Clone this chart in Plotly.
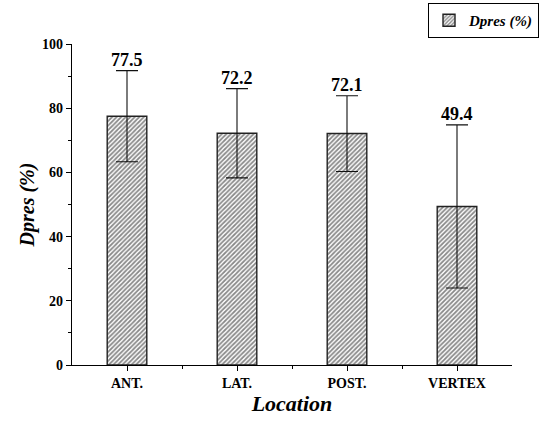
import plotly.graph_objects as go
import numpy as np

categories = ["ANT.", "LAT.", "POST.", "VERTEX"]
dpres = [77.5, 72.2, 72.1, 49.4]
dpres_err = [14.2, 13.9, 11.8, 25.4]
series_name = "<b><i>Dpres (%)</i></b>"

xpos = np.arange(len(categories))
FONT = "Liberation Serif"

fig = go.Figure()
fig.add_trace(go.Bar(
    x=xpos, y=dpres, width=0.36, name=series_name,
    marker=dict(color="white", line=dict(color="#222", width=1.4),
                pattern=dict(shape="/", size=3.2, solidity=0.55, fgcolor="#111", bgcolor="white")),
    error_y=dict(type="data", array=dpres_err, visible=True, color="#111", thickness=1.1, width=11),
    showlegend=True,
))

for x, v, e in zip(xpos, dpres, dpres_err):
    fig.add_annotation(x=x, y=v + e, text=f"<b>{v}</b>", showarrow=False, yanchor="bottom",
                       yshift=-1, font=dict(family=FONT, size=18, color="black"))

fig.update_layout(
    width=555, height=421,
    margin=dict(l=72, r=43, t=44, b=56, autoexpand=False),
    plot_bgcolor="white", paper_bgcolor="white",
    font=dict(family=FONT, color="black"),
    legend=dict(x=428/555, y=1 - 3/421, xref="container", yref="container", xanchor="left", yanchor="top",
                bordercolor="black", borderwidth=1, bgcolor="white", tracegroupgap=0,
                font=dict(family=FONT, size=15, color="black"), itemwidth=30),
    xaxis=dict(
        range=[-0.5, 3.5], tickmode="array", tickvals=xpos, ticktext=[f"<b>{c}</b>" for c in categories],
        showline=True, linecolor="black", linewidth=1.3, ticks="outside", ticklen=5, tickcolor="black",
        showgrid=False, zeroline=False, tickfont=dict(family=FONT, size=14),
        minor=dict(tickmode="array", tickvals=[0.5, 1.5, 2.5], ticks="outside", ticklen=3, tickcolor="black"),
        title=dict(text="<b><i>Location</i></b>", font=dict(family=FONT, size=22), standoff=0),
    ),
    yaxis=dict(
        range=[0, 100], tickmode="array", tickvals=[0, 20, 40, 60, 80, 100],
        ticktext=["<b>0</b>", "<b>20</b>", "<b>40</b>", "<b>60</b>", "<b>80</b>", "<b>100</b>"],
        showline=True, linecolor="black", linewidth=1.3, ticks="outside", ticklen=5, tickcolor="black",
        showgrid=False, zeroline=False, tickfont=dict(family=FONT, size=14),
        minor=dict(tickmode="array", tickvals=[10, 30, 50, 70, 90], ticks="outside", ticklen=3, tickcolor="black"),
        title=dict(text="<b><i>Dpres (%)</i></b>", font=dict(family=FONT, size=20), standoff=2),
    ),
)

fig.write_html("out.html")
